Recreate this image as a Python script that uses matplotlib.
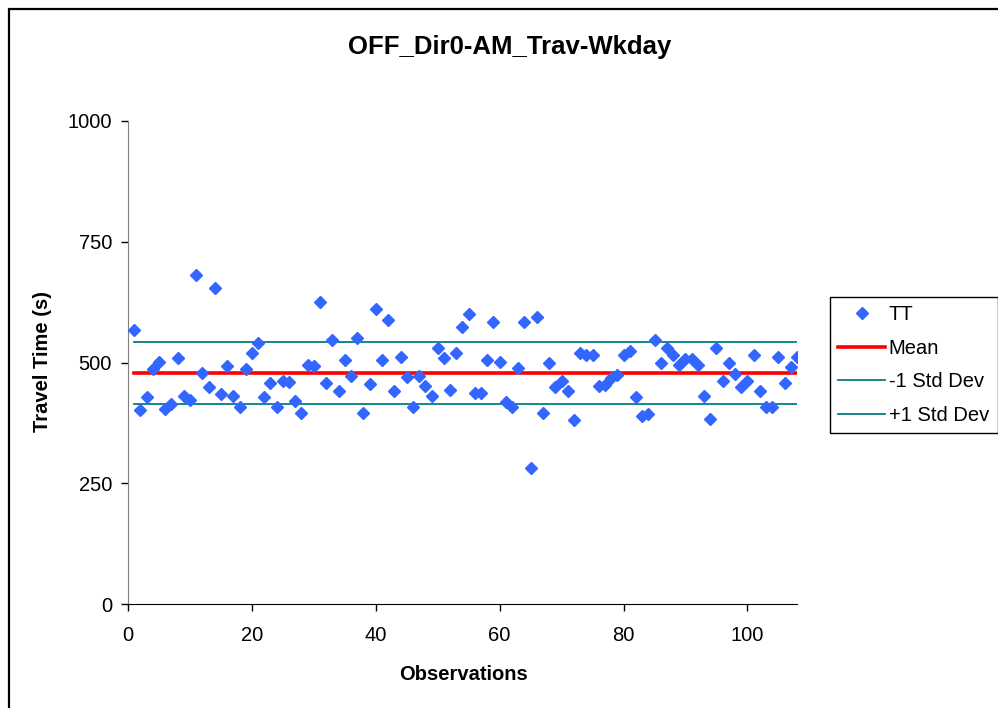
import matplotlib
matplotlib.use("Agg")
import matplotlib.pyplot as plt
from matplotlib.patches import Rectangle
import numpy as np

plt.rcParams['font.family'] = ['Liberation Sans', 'DejaVu Sans']

observations = list(range(1, 109))
travel_time = [
    567, 401, 429, 486, 502, 404, 414, 509, 431, 422,
    681, 479, 449, 654, 435, 493, 431, 407, 486, 519,
    540, 429, 458, 407, 462, 459, 421, 396, 495, 493,
    625, 458, 547, 442, 505, 472, 550, 395, 455, 610,
    505, 587, 442, 512, 469, 407, 472, 451, 431, 529,
    509, 444, 519, 573, 600, 437, 437, 505, 583, 502,
    419, 407, 488, 583, 281, 594, 395, 498, 449, 462,
    442, 380, 519, 516, 516, 451, 453, 467, 474, 516,
    524, 428, 390, 393, 547, 498, 529, 516, 495, 507,
    507, 495, 431, 383, 529, 462, 498, 476, 449, 462,
    516, 442, 407, 407, 512, 458, 491, 512,
]
mean_value = 479
minus_std = 414
plus_std = 543

title = "OFF_Dir0-AM_Trav-Wkday"
x_ticks = [0, 20, 40, 60, 80, 100]
y_ticks = [0, 250, 500, 750, 1000]

W, H = 998, 708
fig = plt.figure(figsize=(W / 100, H / 100), dpi=100)
ax = fig.add_axes([128 / W, 1 - 604 / H, (797 - 128) / W, (604 - 121) / H])

ax.plot(observations, travel_time, linestyle='none', marker='D', markersize=6.5,
        color='#3366FF', markeredgecolor='#3366FF', label='TT', zorder=4)
ax.plot([observations[0], observations[-1]], [mean_value, mean_value],
        color='#FF0000', lw=2.6, label='Mean', zorder=3)
ax.plot([observations[0], observations[-1]], [minus_std, minus_std],
        color='#008080', lw=1.3, label='-1 Std Dev', zorder=2)
ax.plot([observations[0], observations[-1]], [plus_std, plus_std],
        color='#008080', lw=1.3, label='+1 Std Dev', zorder=2)

ax.set_xlim(0, 108)
ax.set_ylim(0, 1000)
ax.set_xticks(x_ticks)
ax.set_yticks(y_ticks)
ax.spines['top'].set_visible(False)
ax.spines['right'].set_visible(False)
ax.spines['left'].set_color('#808080')
ax.spines['bottom'].set_color('black')
ax.tick_params(axis='x', direction='out', length=5, width=1, pad=11, labelsize=14.5)
ax.tick_params(axis='y', direction='out', length=5, width=1, pad=6.5, labelsize=14.5)

fig.text(463 / W, 1 - 674 / H, "Observations", ha='center', va='center',
         fontsize=14.5, fontweight='bold')
fig.text(42 / W, 1 - 362 / H, "Travel Time (s)", ha='center', va='center',
         rotation=90, fontsize=14.5, fontweight='bold')
fig.text(510 / W, 1 - 47 / H, title, ha='center', va='center',
         fontsize=18.5, fontweight='bold')

leg = fig.legend(loc='upper left', bbox_to_anchor=(830 / W, 1 - 297 / H),
                 fontsize=14.5, frameon=True, fancybox=False, framealpha=1,
                 edgecolor='black', borderpad=0.42, labelspacing=0.72,
                 handlelength=2.3, handletextpad=0.2, borderaxespad=0)
leg.get_frame().set_linewidth(1.0)

border = Rectangle((8.5 / W, -0.1), 1.2, (1 - 8.5 / H) + 0.1,
                   transform=fig.transFigure, fill=False, lw=1.6,
                   edgecolor='black', clip_on=False)
fig.patches.append(border)

fig.savefig("out.png", dpi=100)
